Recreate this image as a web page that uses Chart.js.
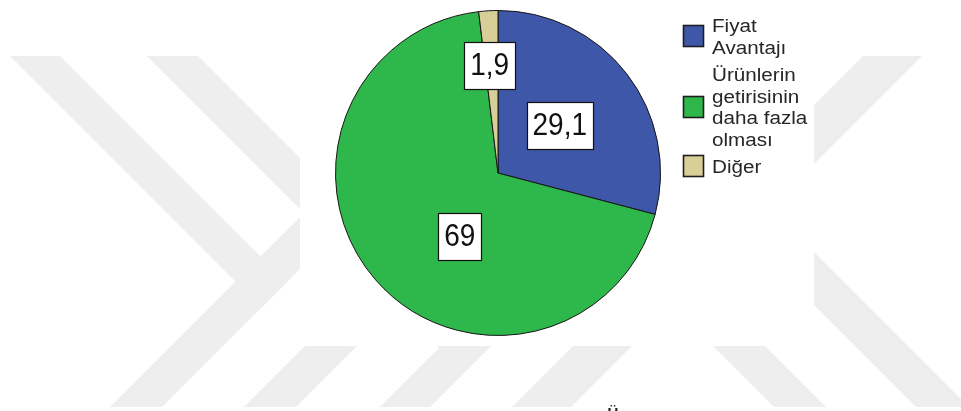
<!DOCTYPE html>
<html>
<head>
<meta charset="utf-8">
<script src="https://cdn.jsdelivr.net/npm/chart.js@4/dist/chart.umd.min.js"></script>
<style>
  html, body { margin: 0; padding: 0; background: #ffffff; }
  #wrap { width: 961px; height: 411px; position: relative; }
</style>
</head>
<body>
<div id="wrap"><canvas id="c" width="961" height="411"></canvas></div>
<script>
// ---- data ----
const categories = ['Fiyat Avantajı', 'Ürünlerin getirisinin daha fazla olması', 'Diğer'];
const legendLines = [['Fiyat', 'Avantajı'], ['Ürünlerin', 'getirisinin', 'daha fazla', 'olması'], ['Diğer']];
const percentages = [29.1, 69, 1.9];
const captionText = 'Ü';

// ---- styles ----
const sliceColors = ['#3e57a8', '#2eb84b', '#d8ce98'];
const fmt = v => String(v).replace('.', ',');

const watermarkPlugin = {
  id: 'watermark',
  beforeDraw(chart) {
    const ctx = chart.ctx;
    const W = chart.width, H = chart.height;
    ctx.save();
    ctx.fillStyle = '#ffffff';
    ctx.fillRect(0, 0, W, H);
    ctx.beginPath();
    ctx.rect(0, 56, W, 351);
    ctx.clip();
    ctx.fillStyle = '#eeeeee';
    const polys = [
      [[10,56],[60,56],[286.5,282.5],[261.5,307.5]],
      [[461,56],[513,56],[162,407],[110,407]],
      [[147,56],[198,56],[489.5,347.5],[439,348]],
      [[595,56],[647,56],[296,407],[244,407]],
      [[731,56],[781,56],[430,407],[380,407]],
      [[863,56],[922,56],[571,407],[512,407]],
      [[659,150],[712,150],[969,407],[916,407]],
      [[517,150],[569,150],[826,407],[774,407]]
    ];
    polys.forEach(p => {
      ctx.beginPath();
      ctx.moveTo(p[0][0], p[0][1]);
      for (let i = 1; i < p.length; i++) ctx.lineTo(p[i][0], p[i][1]);
      ctx.closePath();
      ctx.fill();
    });
    ctx.restore();
    ctx.save();
    ctx.fillStyle = '#ffffff';
    ctx.fillRect(300, 0, 514, 346);
    ctx.restore();
  }
};

const sliceLabelPlugin = {
  id: 'sliceLabels',
  afterDatasetsDraw(chart, args, opts) {
    const ctx = chart.ctx;
    const meta = chart.getDatasetMeta(0);
    const data = chart.data.datasets[0].data;
    meta.data.forEach((arc, i) => {
      const p = arc.getProps(['x', 'y', 'startAngle', 'endAngle', 'outerRadius'], true);
      const mid = (p.startAngle + p.endAngle) / 2 + opts.shift[i] * Math.PI / 180;
      const cx = p.x + Math.cos(mid) * p.outerRadius * opts.radius[i];
      const cy = p.y + Math.sin(mid) * p.outerRadius * opts.radius[i];
      const txt = fmt(data[i]);
      ctx.save();
      ctx.font = '28px "Liberation Sans", Arial, sans-serif';
      const w = ctx.measureText(txt).width + 12;
      const h = 47;
      const bx = Math.round(cx - w / 2) + 0.5, by = Math.round(cy - h / 2) + 0.5;
      ctx.fillStyle = '#ffffff';
      ctx.fillRect(bx, by, Math.round(w), h);
      ctx.strokeStyle = '#111111';
      ctx.lineWidth = 1.2;
      ctx.strokeRect(bx, by, Math.round(w), h);
      ctx.translate(cx, cy + 1);
      ctx.scale(1, 1.1);
      ctx.fillStyle = '#111111';
      ctx.textAlign = 'center';
      ctx.textBaseline = 'middle';
      ctx.fillText(txt, 0, 0);
      ctx.restore();
    });
  }
};

const sideLegendPlugin = {
  id: 'sideLegend',
  afterDraw(chart, args, opts) {
    const ctx = chart.ctx;
    const colors = chart.data.datasets[0].backgroundColor;
    let baseline = opts.firstBaseline;
    ctx.save();
    ctx.font = opts.fontSize + 'px "Liberation Sans", Arial, sans-serif';
    legendLines.forEach((lines, i) => {
      const first = baseline;
      lines.forEach((ln, j) => {
        ctx.save();
        ctx.translate(opts.textX, baseline);
        ctx.scale(opts.stretchX, 1);
        ctx.fillStyle = '#262626';
        ctx.textAlign = 'left';
        ctx.textBaseline = 'alphabetic';
        ctx.fillText(ln, 0, 0);
        ctx.restore();
        if (j < lines.length - 1) baseline += opts.lineHeight;
      });
      const last = baseline;
      const center = (first - opts.capHeight + last) / 2 - 1.5;
      const sy = Math.round(center - opts.box / 2) + 0.5;
      ctx.fillStyle = colors[i];
      ctx.fillRect(opts.boxX, sy, opts.box, opts.box + 1);
      ctx.strokeStyle = '#1e1e1e';
      ctx.lineWidth = 1.6;
      ctx.strokeRect(opts.boxX, sy, opts.box, opts.box + 1);
      baseline += opts.lineHeight + opts.itemGap;
    });
    ctx.fillStyle = '#222222';
    ctx.font = 'bold 15px "Liberation Sans", Arial, sans-serif';
    ctx.textAlign = 'center';
    ctx.textBaseline = 'top';
    ctx.fillText(captionText, 613, 406);
    ctx.restore();
  }
};

new Chart(document.getElementById('c'), {
  type: 'pie',
  data: {
    labels: categories,
    datasets: [{
      data: percentages,
      backgroundColor: sliceColors,
      borderColor: '#161616',
      borderWidth: 1
    }]
  },
  options: {
    responsive: false,
    animation: false,
    devicePixelRatio: 1,
    layout: { padding: { left: 335, right: 300, top: 10, bottom: 75 } },
    plugins: {
      legend: { display: false },
      tooltip: { enabled: false },
      sliceLabels: { radius: [0.48, 0.458, 0.665], shift: [0, -18, -1] },
      sideLegend: { textX: 712, boxX: 683.5, box: 20, firstBaseline: 32, lineHeight: 21.5, itemGap: 6, capHeight: 12.5, fontSize: 17.5, stretchX: 1.18 }
    }
  },
  plugins: [watermarkPlugin, sliceLabelPlugin, sideLegendPlugin]
});
</script>
</body>
</html>
